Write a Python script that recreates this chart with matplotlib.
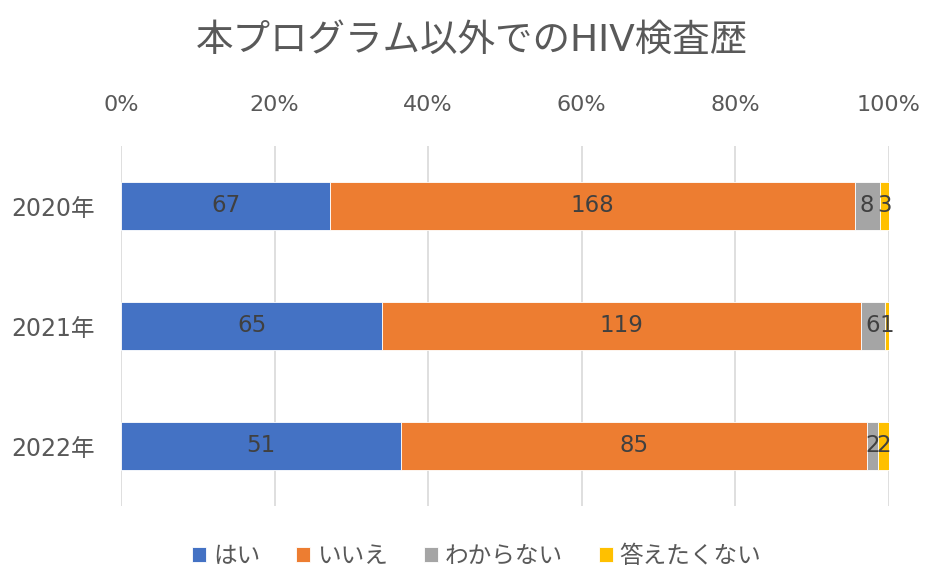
import matplotlib.pyplot as plt
import numpy as np

plt.rcParams['font.family'] = ['DejaVu Sans', 'Noto Sans CJK JP']

years = ['2020年', '2021年', '2022年']
series = ['はい', 'いいえ', 'わからない', '答えたくない']
yes = [67, 65, 51]
no = [168, 119, 85]
unknown = [8, 6, 2]
no_answer = [3, 1, 2]
colors = ['#4472C4', '#ED7D31', '#A5A5A5', '#FFC000']
ticks = [0, 20, 40, 60, 80, 100]

counts = np.array([yes, no, unknown, no_answer], dtype=float)
shares = counts / counts.sum(axis=0) * 100

fig = plt.figure(figsize=(9.26, 5.72), dpi=100)
ax = fig.add_axes([121 / 926, 1 - 506 / 572, 768 / 926, 360 / 572])

y = np.arange(len(years))
left = np.zeros(len(years))
for k in range(len(series)):
    ax.barh(y, shares[k], left=left, height=0.4, color=colors[k],
            edgecolor='white', linewidth=0.6, label=series[k], zorder=3)
    for i in range(len(years)):
        ax.text(left[i] + shares[k][i] / 2, y[i], f'{int(counts[k][i])}',
                ha='center', va='center', fontsize=16.5, color='#404040', zorder=4)
    left += shares[k]

ax.set_xlim(0, 100)
ax.set_ylim(2.5, -0.5)
ax.set_yticks(y)
ax.set_yticklabels(years)
ax.set_xticks(ticks)
ax.set_xticklabels([f'{t}%' for t in ticks])
ax.xaxis.tick_top()
ax.tick_params(axis='both', length=0, labelsize=16, colors='#595959')
ax.tick_params(axis='x', pad=22)
ax.tick_params(axis='y', pad=19, labelsize=17)
ax.grid(axis='x', color='#D9D9D9', linewidth=1.2, zorder=0)
for s in ax.spines.values():
    s.set_visible(False)

fig.suptitle('本プログラム以外でのHIV検査歴', x=0.51, y=0.96, fontsize=27, color='#595959')
fig.legend(loc='lower center', bbox_to_anchor=(0.515, -0.03), ncol=4, frameon=False,
           fontsize=17, labelcolor='#595959', handlelength=0.6, handleheight=0.6,
           handletextpad=0.3, columnspacing=1.5)

fig.savefig('out.png', dpi=100)
